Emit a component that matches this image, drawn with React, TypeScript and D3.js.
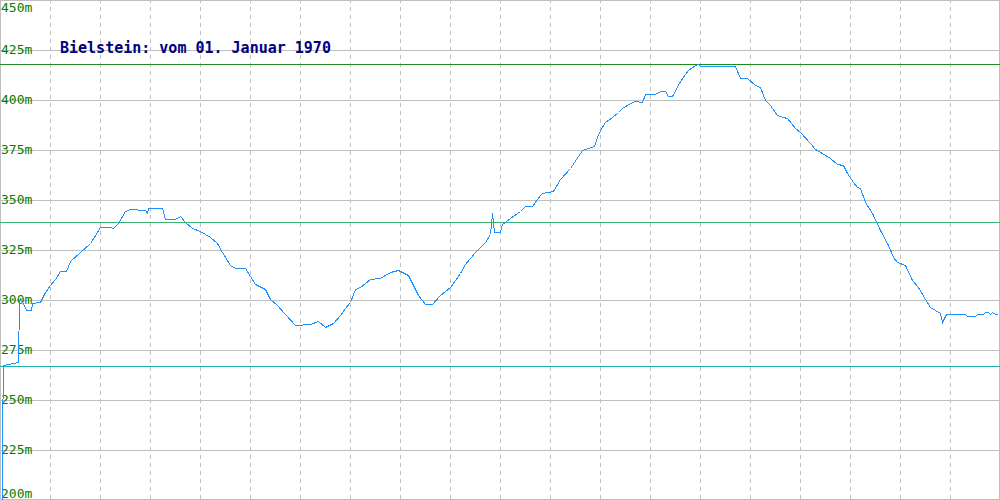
import React, { useRef, useEffect } from 'react';
import * as d3 from 'd3';

// profile: distance (chart units) and elevation in metres
const distance = [
  2, 2, 3, 18, 19, 22, 26, 31, 32, 40, 45, 50, 55, 60, 66, 70, 80, 90, 97, 100,
  110, 113, 118, 125, 130, 145, 147, 148, 162, 165, 175, 180, 185, 192, 200, 210, 217, 222, 230, 235,
  245, 255, 265, 270, 277, 285, 295, 310, 318, 325, 333, 340, 345, 350, 355, 360, 370, 380, 390, 398,
  408, 412, 418, 425, 432, 440, 450, 460, 465, 475, 485, 490, 492, 494, 500, 502, 510, 520, 525, 532,
  540, 542, 553, 560, 570, 580, 582, 594, 597, 600, 605, 612, 618, 622, 630, 635, 642, 645, 655, 660,
  665, 668, 672, 680, 688, 695, 698, 700, 735, 740, 747, 755, 760, 765, 770, 777, 783, 787, 795, 800,
  810, 815, 822, 830, 837, 843, 847, 853, 857, 860, 865, 872, 880, 888, 893, 897, 905, 912, 918, 925,
  930, 935, 940, 942, 946, 965, 967, 975, 977, 983, 985, 988, 990, 992, 995, 997,
];
const elevation = [
  200, 233.5, 267.5, 269, 300, 299.5, 295, 295, 298.5, 299, 304, 307.5, 310.5, 314.5, 314.5, 319.5, 324, 328.5, 334, 336.5,
  336.5, 336, 338.5, 344.5, 345.5, 345, 343.5, 346, 346, 340.5, 340.5, 342, 339, 336, 334.5, 331.5, 328.5, 324, 317.5, 316,
  316, 308, 305.5, 300.5, 297.5, 293, 287.5, 288, 289.5, 286.5, 288.5, 292.5, 296, 299, 305.5, 306.5, 310.5, 311, 314, 315,
  312.5, 308.5, 302.5, 298, 298, 302.5, 306.5, 313.5, 318, 324, 329, 333, 343.5, 334, 334, 338, 341, 344.5, 347, 347,
  352.5, 353.5, 354.5, 360.5, 366, 373.5, 375, 377, 381.5, 385, 389, 391.5, 394, 396, 398.5, 399.5, 399, 403, 403, 404.5,
  404.5, 402, 402, 409.5, 415, 417.5, 418, 417, 417, 411, 411, 407.5, 406.5, 400, 397.5, 392.5, 391.5, 391, 386, 384,
  378.5, 375.5, 373.5, 371, 368, 367.5, 363.5, 359, 356.5, 356, 349, 343.5, 335, 327.5, 321.5, 319, 317.5, 310, 306.5, 300.5,
  296.5, 295, 293.5, 289, 293, 293, 292, 292, 293, 293, 294, 294, 293, 294, 293, 293,
];

const yTicks = [450, 425, 400, 375, 350, 325, 300, 275, 250, 225, 200];
const xGrid = [50, 100, 150, 200, 250, 300, 350, 400, 450, 500, 550, 600, 650, 700, 750, 800, 850, 900, 950];
const refLevels = [418, 339, 267];
const refColors = ['#1c8c1c', '#3cb371', '#20b2aa'];
const title = 'Bielstein: vom 01. Januar 1970';

const W = 1000;
const H = 500;

const ElevationChart: React.FC = () => {
  const svgRef = useRef<SVGSVGElement | null>(null);

  useEffect(() => {
    if (!svgRef.current) return;
    const svg = d3.select(svgRef.current);
    svg.selectAll('*').remove();

    const x = d3.scaleLinear().domain([0, 1000]).range([0, W]);
    const y = d3.scaleLinear().domain([200, 450]).range([H, 0]);
    const py = (v: number) => Math.min(Math.round(y(v)), H - 1) + 0.5;

    svg.append('rect').attr('width', W).attr('height', H).attr('fill', '#fff');

    // vertical dashed grid
    svg
      .selectAll('.vgrid')
      .data(xGrid)
      .enter()
      .append('line')
      .attr('x1', d => Math.round(x(d)) + 0.5)
      .attr('x2', d => Math.round(x(d)) + 0.5)
      .attr('y1', 0)
      .attr('y2', H)
      .attr('stroke', '#c0c0c0')
      .attr('stroke-dasharray', '4,4')
      .attr('stroke-dashoffset', 1)
      .attr('shape-rendering', 'crispEdges');

    // horizontal grid
    svg
      .selectAll('.hgrid')
      .data(yTicks)
      .enter()
      .append('line')
      .attr('x1', 0)
      .attr('x2', W)
      .attr('y1', d => py(d))
      .attr('y2', d => py(d))
      .attr('stroke', '#c0c0c0')
      .attr('shape-rendering', 'crispEdges');

    // side borders
    svg
      .selectAll('.border')
      .data([0, W - 1])
      .enter()
      .append('line')
      .attr('x1', d => d + 0.5)
      .attr('x2', d => d + 0.5)
      .attr('y1', 0)
      .attr('y2', H)
      .attr('stroke', '#c0c0c0')
      .attr('shape-rendering', 'crispEdges');

    // reference levels
    svg
      .selectAll('.ref')
      .data(refLevels)
      .enter()
      .append('line')
      .attr('x1', 0)
      .attr('x2', W)
      .attr('y1', d => Math.round(y(d)) + 0.5)
      .attr('y2', d => Math.round(y(d)) + 0.5)
      .attr('stroke', (_, i) => refColors[i])
      .attr('shape-rendering', 'crispEdges');

    // tick labels
    svg
      .selectAll('.ylab')
      .data(yTicks)
      .enter()
      .append('text')
      .attr('x', 1)
      .attr('y', d => Math.max(12, Math.min(y(d) + 4, 498)))
      .attr('fill', '#008000')
      .attr('font-family', '"DejaVu Sans Mono", monospace')
      .attr('font-size', 13)
      .text(d => `${d}m`);

    svg
      .append('text')
      .attr('x', 60)
      .attr('y', 53)
      .attr('fill', '#000080')
      .attr('font-family', '"DejaVu Sans Mono", monospace')
      .attr('font-weight', 'bold')
      .attr('font-size', 15)
      .text(title);

    const pts = distance.map((d, i) => [d, elevation[i]] as [number, number]);
    const line = d3
      .line<[number, number]>()
      .x(d => x(d[0]) + 0.5)
      .y(d => Math.round(y(d[1])) + 0.5);

    svg
      .append('path')
      .datum(pts)
      .attr('d', line)
      .attr('fill', 'none')
      .attr('stroke', '#1e90ff')
      .attr('stroke-width', 1)
      .attr('shape-rendering', 'crispEdges');
  }, []);

  return (
    <svg
      ref={svgRef}
      width={W}
      height={H}
      style={{ position: 'fixed', left: 0, top: 0, display: 'block' }}
    ></svg>
  );
};

export default function App() {
  return <ElevationChart />;
}
